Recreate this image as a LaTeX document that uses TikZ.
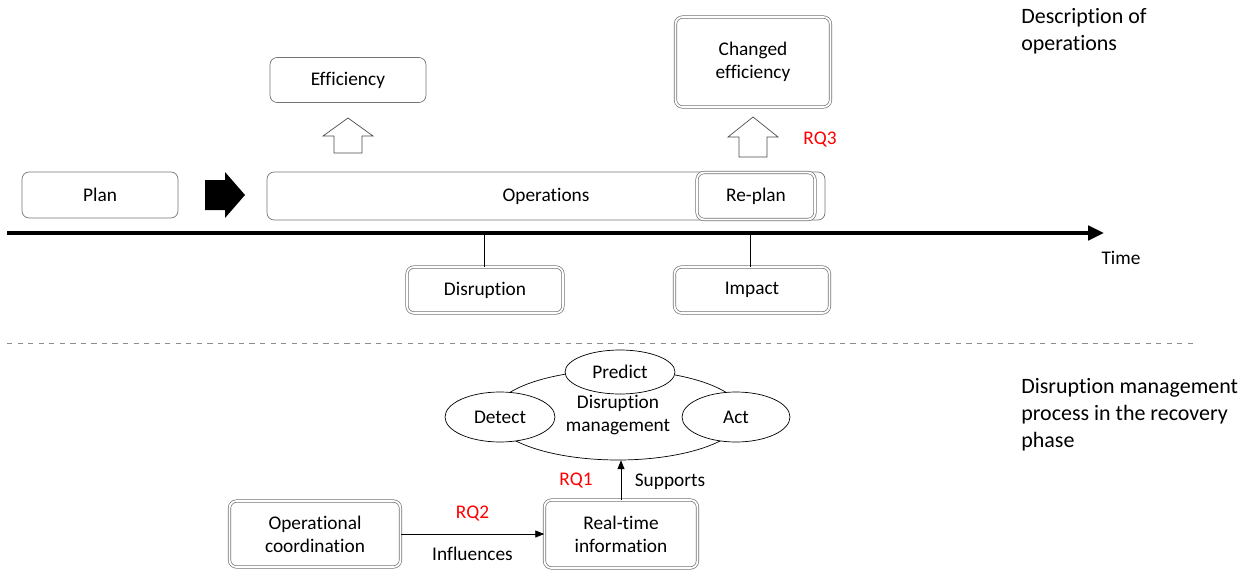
\documentclass[tikz,border=0pt]{standalone}
\usepackage{fontspec}
\setmainfont[Ligatures=NoCommon]{Carlito}
\usetikzlibrary{arrows.meta,shapes.geometric}

\begin{document}
\begin{tikzpicture}[x=0.02cm, y=-0.02cm,
  font=\fontsize{11}{13}\selectfont,
  box/.style ={rectangle, draw=black!55, rounded corners=4pt, align=center, inner sep=0pt},
  dbox/.style ={box, draw=black!55, double=white, double distance=1pt},
  oval/.style ={ellipse, draw, fill=white, inner sep=0pt, align=center},
  side/.style ={anchor=north west, align=left, inner sep=0pt, font=\fontsize{12.5}{15.3}\selectfont},
  rq/.style ={text=red}]
 \useasboundingbox (0,0) rectangle (1247,571);
 % top row
 \node[box] (plan) [minimum width=3.12cm, minimum height=0.92cm] at (100,195) {Plan};
 \node[box] (ops) [minimum width=11.16cm, minimum height=0.96cm] at (546,196) {Operations};
 \node[dbox] (replan) [minimum width=2.36cm, minimum height=0.94cm] at (756,196) {Re-plan};
 \node[box] (eff) [minimum width=3.12cm, minimum height=0.9cm] at (348,80) {Efficiency};
 \node[dbox] (ceff) [minimum width=3.1cm, minimum height=1.8cm] at (753,62) {Changed\\efficiency};
 \node[rq] (rq3) at (820,140) {RQ3};
 \fill (205,180) -- (225,180) -- (225,172) -- (245,195) -- (225,218) -- (225,210) -- (205,210) -- cycle;
 \draw[black!70, fill=white, shift={(348,118)}] (-14,35) -- (-14,18) -- (-25,18) -- (0,0) -- (25,18) -- (14,18) -- (14,35) -- cycle;
 \draw[black!70, fill=white, shift={(753,117)}] (-14,40) -- (-14,20) -- (-25,20) -- (0,0) -- (25,20) -- (14,20) -- (14,40) -- cycle;
 % time axis
 \coordinate (t0) at (7,233);
 \coordinate (t1) at (1104,233);
 \draw[line width=2.4pt, -{Triangle[length=9pt,width=8pt]}] (t0) to (t1);
 \node (time) at (1121,258) {Time};
 \node[dbox] (dis) [minimum width=3.12cm, minimum height=0.92cm] at (485,290) {Disruption};
 \node[dbox] (imp) [minimum width=3.1cm, minimum height=0.92cm] at (752,290) {Impact};
 \coordinate (d0) at (484,234);
 \coordinate (i0) at (750,234);
 \draw (d0) to (d0 |- dis.north);
 \draw (i0) to (i0 |- imp.north);
 \draw[black!45, dashed] (7,343) -- (1197,343);
 % side labels
 \node[side] (desc) at (1021,8) {Description of\\operations};
 \node[side] (proc) at (1021,378) {Disruption management\\process in the recovery\\phase};
 % disruption management
 \node[ellipse, draw, inner sep=0pt, align=center] (dm) [minimum width=5cm, minimum height=1.8cm] at (618,415) {Disruption\\management};
 \node[oval] (detect) [minimum width=2.2cm, minimum height=1cm] at (500,417) {Detect};
 \node[oval] (predict) [minimum width=2.2cm, minimum height=0.88cm] at (620,372) {Predict};
 \node[oval] (act) [minimum width=2.16cm, minimum height=1cm] at (736,417) {Act};
 \node[dbox] (coord) [minimum width=3.42cm, minimum height=1.32cm] at (315,534) {Operational\\coordination};
 \node[dbox] (rt) [minimum width=3.06cm, minimum height=1.36cm] at (621,534) {Real-time\\information};
 \draw[-{Triangle[length=5pt,width=4pt]}] (coord) to node[above=4pt, rq] {RQ2} node[below=4pt] {Influences} (rt);
 \draw[-{Triangle[length=5pt,width=4pt]}] (rt.north) to (rt.north |- dm.south);
 \node[rq] (rq1) at (576,481) {RQ1};
 \node (sup) at (670,482) {Supports};
\end{tikzpicture}
\end{document}
